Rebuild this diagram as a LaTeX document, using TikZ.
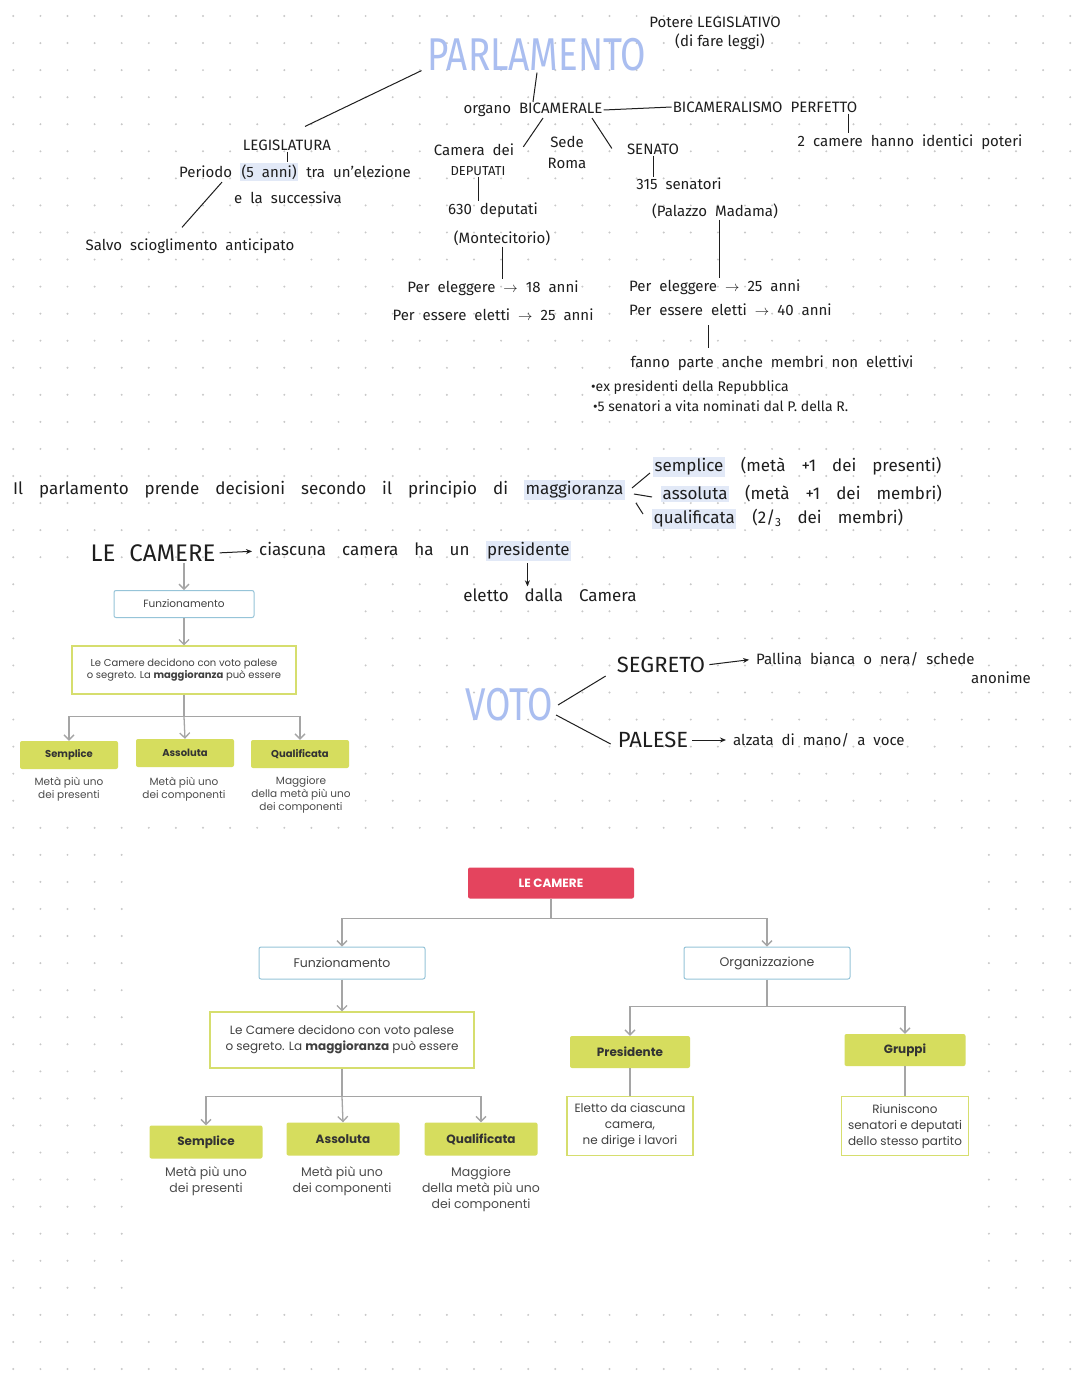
\documentclass[tikz,border=0pt]{standalone}
\usepackage{fontspec}
\usepackage{graphicx}
\setmainfont{Fira Sans}
\newfontfamily\libro{Poppins}
\usetikzlibrary{arrows.meta,positioning}
\definecolor{lavanda}{RGB}{170,190,240}
\definecolor{evid}{RGB}{226,233,247}
\definecolor{punto}{RGB}{200,200,200}
\definecolor{grigio}{RGB}{165,165,165}
\definecolor{bordoblu}{RGB}{150,196,216}
\definecolor{bordoverde}{RGB}{214,222,110}
\definecolor{verde}{RGB}{214,221,94}
\definecolor{rosso}{RGB}{228,68,94}
\definecolor{inchiostro}{RGB}{30,30,30}
\newcommand{\evidenzia}[1]{{\setlength{\fboxsep}{1.5pt}\colorbox{evid}{#1}}}
\newcommand{\spazi}[1]{\spaceskip=#1\relax}

\begin{document}
\begin{tikzpicture}[x=1pt,y=-1pt,
	mano/.style={font=\fontsize{15}{18}\selectfont\spazi{8pt plus 2pt}, inner sep=1pt, text=inchiostro},
	largo/.style={font=\fontsize{17}{20}\selectfont\spazi{16pt plus 2pt}},
	piccolo/.style={font=\fontsize{15}{17}\selectfont},
	grosso/.style={font=\fontsize{22}{24}\selectfont},
	linea/.style={draw=inchiostro, line width=1pt},
	freccia/.style={linea, -{Stealth[length=6pt,width=5pt]}, shorten <=3pt, shorten >=6pt},
	grigia/.style={draw=grigio, line width=1.3pt},
	punta/.style={grigia, -{Straight Barb[length=5pt,width=10pt]}},
	blubox/.style={draw=bordoblu, line width=1pt, rounded corners=2pt, fill=white, font=\libro, text=black!75},
	verdebox/.style={draw=bordoverde, line width=1.2pt, fill=white, font=\libro, text=black!75, align=center},
	pieno/.style={fill=verde, rounded corners=2pt, font=\libro\bfseries, text=black!80},
	descr/.style={font=\libro, text=black!70, align=center, inner sep=0pt},
]
\useasboundingbox (0,0) rectangle (1080,1394);
\fill[white] (0,0) rectangle (1080,1394);

% fondo a puntini
\foreach \i in {0,...,39}
	\foreach \j in {0,...,50}
		\fill[punto] (13.3+\i*27.1,16+\j*27.06) circle (1.1pt);

% immagini incollate
\fill[white] (18,582) rectangle (362,826);
\fill[white] (135,842) rectangle (982,1300);

% ---------------- PARLAMENTO
\node[mano, text=lavanda, font=\fontsize{46}{46}\selectfont] (parl) at (537,55) {\scalebox{0.8}[1]{PARLAMENTO}};
\node[mano, piccolo] (potere) at (715,22) {Potere LEGISLATIVO};
\node[mano, piccolo] (difare) at (720,42) {(di fare leggi)};

\node[mano] (bicam) at (533,110) {organo BICAMERALE};
\node[mano] (perf) at (765,107) {BICAMERALISMO PERFETTO};
\node[mano] (poteri) at (910,142) {2 camere hanno identici poteri};

\node[mano] (legis) at (287,145) {LEGISLATURA};
\node[mano] (periodo) at (295,172) {Periodo \evidenzia{(5 anni)} tra un'elezione};
\node[mano] (succ) at (288,198) {e la successiva};
\node[mano] (salvo) at (190,246) {Salvo scioglimento anticipato};

\node[mano] (camdei) at (474,150) {Camera dei};
\node[mano, font=\fontsize{13}{15}\selectfont] (deput) at (478,171) {DEPUTATI};
\node[mano, align=center, font=\fontsize{15}{21}\selectfont] (sede) at (567,152) {Sede\\Roma};
\node[mano] (senato) at (653,149) {SENATO};
\node[mano] (n315) at (679,184) {315 senatori};
\node[mano] (madama) at (715,211) {(Palazzo Madama)};
\node[mano] (n630) at (493,210) {630 deputati};
\node[mano] (monte) at (502,238) {(Montecitorio)};

\node[mano] (etaC1) at (493,288) {Per eleggere $\to$ 18 anni};
\node[mano] (etaC2) at (493,315) {Per essere eletti $\to$ 25 anni};
\node[mano, anchor=west] (etaS1) at (628,287) {Per eleggere $\to$ 25 anni};
\node[mano, anchor=west] (etaS2) at (628,310) {Per essere eletti $\to$ 40 anni};

\node[mano] (membri) at (772,363) {fanno parte anche membri non elettivi};
\node[mano, anchor=west, font=\fontsize{14}{16}\selectfont] (ex) at (590,388) {\textbullet ex presidenti della Repubblica};
\node[mano, anchor=west, font=\fontsize{14}{16}\selectfont] (vita) at (592,406) {\textbullet 5 senatori a vita nominati dal P. della R.};

\draw[linea] (parl.south) -- (bicam.north);
\draw[linea] (bicam.east) -- (perf.west);
\draw[linea] ([xshift=83pt]perf.south) -- ([xshift=83pt]perf.south |- poteri.north);
\draw[linea] ([xshift=-5pt,yshift=2pt]parl.south west) -- ([xshift=18pt,yshift=12pt]legis.north);
\draw[linea] (legis.south) -- (legis.south |- periodo.north);
\draw[linea] ([xshift=-73pt]periodo.south) -- ([xshift=-8pt,yshift=10pt]salvo.north);
\draw[linea] ([xshift=10pt]bicam.south) -- ([xshift=8pt,yshift=-4pt]camdei.north east);
\draw[linea] ([xshift=59pt]bicam.south) -- ([xshift=-14pt,yshift=-6pt]senato.north west);
\draw[linea] (senato.south) -- (senato.south |- n315.north);
\draw[linea] (deput.south) -- (deput.south |- n630.north);
\draw[linea] ([xshift=4pt]madama.south) -- ([xshift=4pt]madama.south |- etaS1.north);
\draw[linea] (monte.south) -- (monte.south |- etaC1.north);
\draw[linea] ([xshift=-64pt,yshift=-8pt]membri.north |- etaS2.south) -- ([xshift=-64pt,yshift=6pt]membri.north);

% ---------------- maggioranza
\node[mano, largo, anchor=west] (princ) at (12,490) {Il parlamento prende decisioni secondo il principio di \evidenzia{maggioranza}};
\node[mano, largo, anchor=west] (semp) at (652,467) {\evidenzia{semplice} (metà +1 dei presenti)};
\node[mano, largo, anchor=west] (ass) at (660,494) {\evidenzia{assoluta} (metà +1 dei membri)};
\node[mano, largo, anchor=west] (qual) at (651,519) {\evidenzia{qualificata} (2/\textsubscript{3} dei membri)};
\draw[linea] ([xshift=6pt,yshift=2pt]princ.east) -- ([xshift=-2pt,yshift=-6pt]semp.west);
\draw[linea] ([xshift=8pt,yshift=-4pt]princ.east) -- ([xshift=-8pt,yshift=-3pt]ass.west);
\draw[linea] ([xshift=10pt,yshift=-13pt]princ.east) -- ([xshift=-8pt,yshift=5pt]qual.west);

\node[mano, font=\fontsize{24}{26}\selectfont\spazi{14pt}] (lecam) at (153,553) {LE CAMERE};
\node[mano, largo, anchor=west] (ciasc) at (258,551) {ciascuna camera ha un \evidenzia{presidente}};
\node[mano, largo] (eletto) at (550,595) {eletto dalla Camera};
\draw[freccia] (lecam.east) -- (ciasc.west);
\draw[freccia, shorten <=1pt, shorten >=1pt] ([xshift=-45pt]ciasc.south east) -- ([xshift=-45pt]ciasc.south east |- eletto.north);

% schema piccolo
\node[blubox, font=\libro\fontsize{10.5}{12}\selectfont, minimum width=140pt, minimum height=27pt] (funzA) at (184,604) {Funzionamento};
\node[verdebox, font=\libro\fontsize{10}{12}\selectfont, minimum width=224pt, minimum height=48pt] (decA) at (184,670) {Le Camere decidono con voto palese\\o segreto. La \textbf{maggioranza} può essere};
\node[pieno, font=\libro\bfseries\fontsize{10}{12}\selectfont, minimum width=98pt, minimum height=28pt] (sempA) at (69,755) {Semplice};
\node[pieno, font=\libro\bfseries\fontsize{10}{12}\selectfont, minimum width=98pt, minimum height=28pt] (assA) at (185,753) {Assoluta};
\node[pieno, font=\libro\bfseries\fontsize{10}{12}\selectfont, minimum width=98pt, minimum height=28pt] (qualA) at (300,754) {Qualificata};
\node[descr, font=\libro\fontsize{10.5}{13}\selectfont] (sempAd) at (69,789) {Metà più uno\\dei presenti};
\node[descr, font=\libro\fontsize{10.5}{13}\selectfont] (assAd) at (184,789) {Metà più uno\\dei componenti};
\node[descr, font=\libro\fontsize{10.5}{13}\selectfont] (qualAd) at (301,795) {Maggiore\\della metà più uno\\dei componenti};
\draw[punta] (funzA.north |- lecam.south) -- (funzA.north);
\draw[punta] (funzA) -- (decA);
\draw[grigia] (decA.south) -- ++(0,22) coordinate (ramoA);
\draw[punta] (ramoA) -| (sempA.north);
\draw[punta] (ramoA) -- (assA.north);
\draw[punta] (ramoA) -| (qualA.north);

% ---------------- VOTO
\node[mano, text=lavanda, font=\fontsize{46}{46}\selectfont] (voto) at (509,705) {\scalebox{0.8}[1]{VOTO}};
\node[mano, grosso] (segr) at (661,665) {SEGRETO};
\node[mano, anchor=west] (pall) at (755,659) {Pallina bianca o nera/ schede};
\node[mano] (anon) at (1001,678) {anonime};
\node[mano, grosso] (pal) at (653,740) {PALESE};
\node[mano, anchor=west] (alz) at (732,740) {alzata di mano/ a voce};
\draw[linea] ([xshift=4pt]voto.east) -- ([xshift=-10pt,yshift=-2pt]segr.south west);
\draw[linea] ([xshift=2pt,yshift=-10pt]voto.east) -- ([xshift=-6pt,yshift=-4pt]pal.west);
\draw[freccia] (segr.east) -- (pall.west);
\draw[freccia] (pal.east) -- (alz.west);

% ---------------- LE CAMERE (schema grande)
\node[fill=rosso, rounded corners=2pt, font=\libro\bfseries\fontsize{12}{14}\selectfont, text=white, minimum width=166pt, minimum height=31pt] (lecamB) at (551,883) {LE CAMERE};
\node[blubox, font=\libro\fontsize{12.5}{14}\selectfont, minimum width=166pt, minimum height=32pt] (funzB) at (342,963) {Funzionamento};
\node[blubox, font=\libro\fontsize{12.5}{14}\selectfont, minimum width=166pt, minimum height=32pt] (orgB) at (767,963) {Organizzazione};
\node[verdebox, font=\libro\fontsize{12}{16}\selectfont, minimum width=264pt, minimum height=56pt] (decB) at (342,1040) {Le Camere decidono con voto palese\\o segreto. La \textbf{maggioranza} può essere};
\node[pieno, font=\libro\bfseries\fontsize{12}{14}\selectfont, minimum width=113pt, minimum height=33pt] (sempB) at (206,1142) {Semplice};
\node[pieno, font=\libro\bfseries\fontsize{12}{14}\selectfont, minimum width=113pt, minimum height=33pt] (assB) at (343,1139) {Assoluta};
\node[pieno, font=\libro\bfseries\fontsize{12}{14}\selectfont, minimum width=113pt, minimum height=33pt] (qualB) at (481,1139) {Qualificata};
\node[descr, font=\libro\fontsize{12.5}{16}\selectfont] (sempBd) at (206,1181) {Metà più uno\\dei presenti};
\node[descr, font=\libro\fontsize{12.5}{16}\selectfont] (assBd) at (342,1181) {Metà più uno\\dei componenti};
\node[descr, font=\libro\fontsize{12.5}{16}\selectfont] (qualBd) at (481,1189) {Maggiore\\della metà più uno\\dei componenti};
\node[pieno, font=\libro\bfseries\fontsize{12}{14}\selectfont, minimum width=120pt, minimum height=32pt] (presB) at (630,1052) {Presidente};
\node[pieno, font=\libro\bfseries\fontsize{12}{14}\selectfont, minimum width=121pt, minimum height=32pt] (grupB) at (905,1050) {Gruppi};
\node[verdebox, font=\libro\fontsize{12}{16}\selectfont, minimum width=126pt, minimum height=59pt, inner sep=2pt] (presBd) at (630,1126) {Eletto da ciascuna\\camera,\\ne dirige i lavori};
\node[verdebox, font=\libro\fontsize{12}{16}\selectfont, minimum width=127pt, minimum height=59pt, inner sep=2pt] (grupBd) at (905,1126) {Riuniscono\\senatori e deputati\\dello stesso partito};

\draw[grigia] (lecamB.south) -- ++(0,20) coordinate (ramoB);
\draw[punta] (ramoB) -| (funzB.north);
\draw[punta] (ramoB) -| (orgB.north);
\draw[punta] (funzB) -- (decB);
\draw[grigia] (decB.south) -- ++(0,28) coordinate (ramoC);
\draw[punta] (ramoC) -| (sempB.north);
\draw[punta] (ramoC) -- (assB.north);
\draw[punta] (ramoC) -| (qualB.north);
\draw[grigia] (orgB.south) -- ++(0,27) coordinate (ramoD);
\draw[punta] (ramoD) -| (presB.north);
\draw[punta] (ramoD) -| (grupB.north);
\draw[grigia] (presB) -- (presBd);
\draw[grigia] (grupB) -- (grupBd);

\end{tikzpicture}
\end{document}
